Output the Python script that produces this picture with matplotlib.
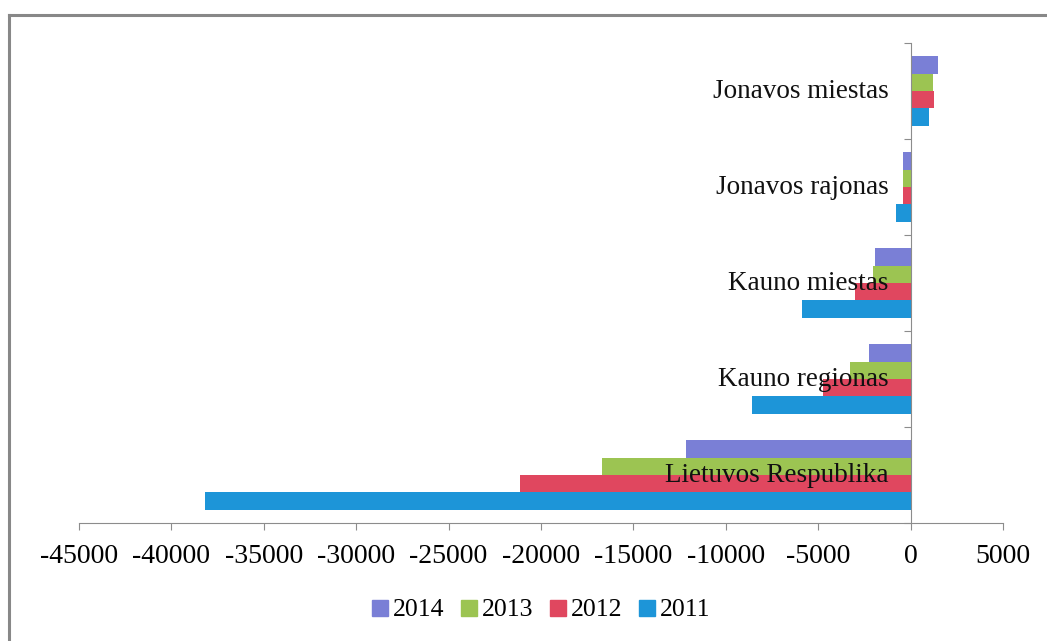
import matplotlib
matplotlib.use("Agg")
import matplotlib.pyplot as plt
from matplotlib.lines import Line2D
import numpy as np

categories = ["Jonavos miestas", "Jonavos rajonas", "Kauno miestas",
              "Kauno regionas", "Lietuvos Respublika"]
series_names = ["2014", "2013", "2012", "2011"]
v2014 = [1480, -420, -1950, -2270, -12150]
v2013 = [1230, -420, -2020, -3300, -16700]
v2012 = [1240, -420, -3030, -4750, -21150]
v2011 = [1010, -780, -5850, -8560, -38200]
xticks = list(range(-45000, 5001, 5000))
colors = ["#7a7fd6", "#9cc452", "#e0475f", "#1d95d8"]

plt.rcParams['font.family'] = ['Liberation Serif', 'DejaVu Serif']
plt.rcParams['axes.unicode_minus'] = False

fig = plt.figure(figsize=(10.47, 6.41), dpi=100)
ax = fig.add_axes([79/1047, 1 - 523/641, (1003 - 79)/1047, (523 - 43)/641])

values = [v2014, v2013, v2012, v2011]
h = 0.182
y = np.arange(len(categories))
for k, (vals, name, c) in enumerate(zip(values, series_names, colors)):
    ax.barh(y + (k - 1.5) * h, vals, height=h, color=c, label=name)

ax.set_xlim(-45000, 5000)
ax.set_ylim(len(categories) - 0.5, -0.5)
ax.set_xticks(xticks)
ax.set_xticklabels([str(t) for t in xticks])
ax.set_yticks(np.arange(-0.5, len(categories), 1.0))
ax.set_yticklabels([])

for s in ["top", "right"]:
    ax.spines[s].set_visible(False)
ax.spines['left'].set_position(('data', 0))
ax.spines['left'].set_color('#8c8c8c')
ax.spines['bottom'].set_color('#8c8c8c')
ax.tick_params(axis='x', direction='out', length=5, color='#8c8c8c',
               labelsize=20, pad=10)
ax.tick_params(axis='y', direction='out', length=5, color='#8c8c8c')

for i, cat in enumerate(categories):
    ax.annotate(cat, xy=(0, i), xytext=(-16, 0), textcoords='offset points',
                ha='right', va='center', fontsize=19.5, color='#111111')

leg = fig.legend(handles=[Line2D([], [], marker='s', linestyle='', markersize=11,
                                  color=c, label=n) for c, n in zip(colors, series_names)],
                 loc='center', bbox_to_anchor=(540/1047, 1 - 610/641), ncol=4,
                 frameon=False, fontsize=18.5, handletextpad=0.1, columnspacing=0.55,
                 handlelength=0.8)

fig.add_artist(Line2D([9/1047, 1.0], [1 - 15/641, 1 - 15/641], color='#888888', lw=2.2,
                      transform=fig.transFigure))
fig.add_artist(Line2D([9/1047, 9/1047], [0, 1 - 15/641], color='#888888', lw=2.2,
                      transform=fig.transFigure))

fig.savefig("out.png", dpi=100)
